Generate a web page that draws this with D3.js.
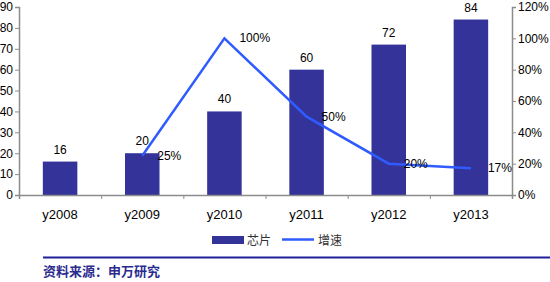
<!DOCTYPE html>
<html>
<head>
<meta charset="utf-8">
<script src="https://cdn.jsdelivr.net/npm/d3@7"></script>
<style>
  body { margin: 0; background: #fff; }
  svg { display: block; font-family: "Liberation Sans", Arial, sans-serif; }
</style>
</head>
<body>
<div id="chart"></div>
<script>
var years = ['y2008', 'y2009', 'y2010', 'y2011', 'y2012', 'y2013'];
var chips = [16, 20, 40, 60, 72, 84];
var growthYears = ['y2009', 'y2010', 'y2011', 'y2012', 'y2013'];
var growth = [0.25, 1.00, 0.50, 0.20, 0.17];
var growthLabels = ['25%', '100%', '50%', '20%', '17%'];
var leftTicks = [0, 10, 20, 30, 40, 50, 60, 70, 80, 90];
var rightTicks = [0, 0.2, 0.4, 0.6, 0.8, 1.0, 1.2];
var legendNames = ['芯片', '增速'];
var sourceText = '资料来源：申万研究';

var W = 550, H = 282;
var margin = { top: 7, right: 38, bottom: 87, left: 19 };
var width = W - margin.left - margin.right;
var height = H - margin.top - margin.bottom;

var svg = d3.select('#chart').append('svg')
    .attr('width', W)
    .attr('height', H);
var g = svg.append('g')
    .attr('transform', 'translate(' + margin.left + ',' + margin.top + ')');

var x = d3.scaleBand().domain(years).range([0, width]).paddingInner(0.58).paddingOuter(0.29);
var xEdge = d3.scaleLinear().domain([0, years.length]).range([0, width]);
var yL = d3.scaleLinear().domain([0, 90]).range([height, 0]);
var yR = d3.scaleLinear().domain([0, 1.2]).range([height, 0]);

var barColor = '#333399', lineColor = '#2f5bff', axisColor = '#8c8c8c';

// bars
g.selectAll('.bar').data(chips).enter().append('rect')
    .attr('x', function (d, i) { return x(years[i]); })
    .attr('y', function (d) { return yL(d); })
    .attr('width', x.bandwidth())
    .attr('height', function (d) { return height - yL(d); })
    .attr('fill', barColor);

g.selectAll('.barlabel').data(chips).enter().append('text')
    .attr('x', function (d, i) { return x(years[i]) + x.bandwidth() / 2; })
    .attr('y', function (d) { return yL(d) - 8; })
    .attr('text-anchor', 'middle')
    .style('font-size', '12px')
    .text(function (d) { return d; });

// axes
var leftAxis = g.append('g').call(d3.axisLeft(yL).tickValues(leftTicks).tickSize(4).tickPadding(2));
var rightAxis = g.append('g').attr('transform', 'translate(' + width + ',0)')
    .call(d3.axisRight(yR).tickValues(rightTicks).tickSize(4).tickPadding(2)
        .tickFormat(function (d) { return Math.round(d * 100) + '%'; }));
var bottomAxis = g.append('g').attr('transform', 'translate(0,' + height + ')')
    .call(d3.axisBottom(xEdge).tickValues(d3.range(years.length + 1)).tickSize(4).tickFormat(''));
[leftAxis, rightAxis, bottomAxis].forEach(function (a) {
    a.select('.domain').attr('stroke', axisColor).attr('stroke-width', 1.5);
    a.selectAll('.tick line').attr('stroke', axisColor);
    a.selectAll('.tick text').style('font-size', '12px').attr('fill', '#000')
        .style('font-family', '"Liberation Sans", Arial, sans-serif');
});

g.selectAll('.xlabel').data(years).enter().append('text')
    .attr('x', function (d) { return x(d) + x.bandwidth() / 2; })
    .attr('y', height + 24)
    .attr('text-anchor', 'middle')
    .style('font-size', '13px')
    .text(function (d) { return d; });

// line
var cx = function (yr) { return x(yr) + x.bandwidth() / 2; };
var line = d3.line()
    .x(function (d, i) { return cx(growthYears[i]); })
    .y(function (d) { return yR(d); });
g.append('path').datum(growth)
    .attr('d', line)
    .attr('fill', 'none')
    .attr('stroke', lineColor)
    .attr('stroke-width', 2.5);

g.selectAll('.linelabel').data(growth).enter().append('text')
    .attr('x', function (d, i) { return cx(growthYears[i]) + (i === 4 ? 17 : 15); })
    .attr('y', function (d) { return yR(d) + 4; })
    .style('font-size', '12px')
    .text(function (d, i) { return growthLabels[i]; });

// legend
var lg = svg.append('g').style('font-family', '"Noto Sans CJK SC", sans-serif');
lg.append('rect').attr('x', 212).attr('y', 236).attr('width', 32).attr('height', 8).attr('fill', barColor);
lg.append('text').attr('x', 247).attr('y', 245).style('font-size', '12px').attr('fill', '#333').text(legendNames[0]);
lg.append('line').attr('x1', 282).attr('x2', 314).attr('y1', 239.5).attr('y2', 239.5)
    .attr('stroke', lineColor).attr('stroke-width', 2.5);
lg.append('text').attr('x', 318).attr('y', 245).style('font-size', '12px').attr('fill', '#333').text(legendNames[1]);

// source footer
svg.append('line').attr('x1', 43).attr('x2', W).attr('y1', 257.5).attr('y2', 257.5)
    .attr('stroke', '#1f1f99').attr('stroke-width', 2);
svg.append('text').attr('x', 43).attr('y', 276)
    .style('font-family', '"Noto Sans CJK SC", sans-serif')
    .style('font-size', '13px').style('font-weight', 'bold')
    .attr('fill', '#2b2b8f')
    .text(sourceText);
</script>
</body>
</html>
